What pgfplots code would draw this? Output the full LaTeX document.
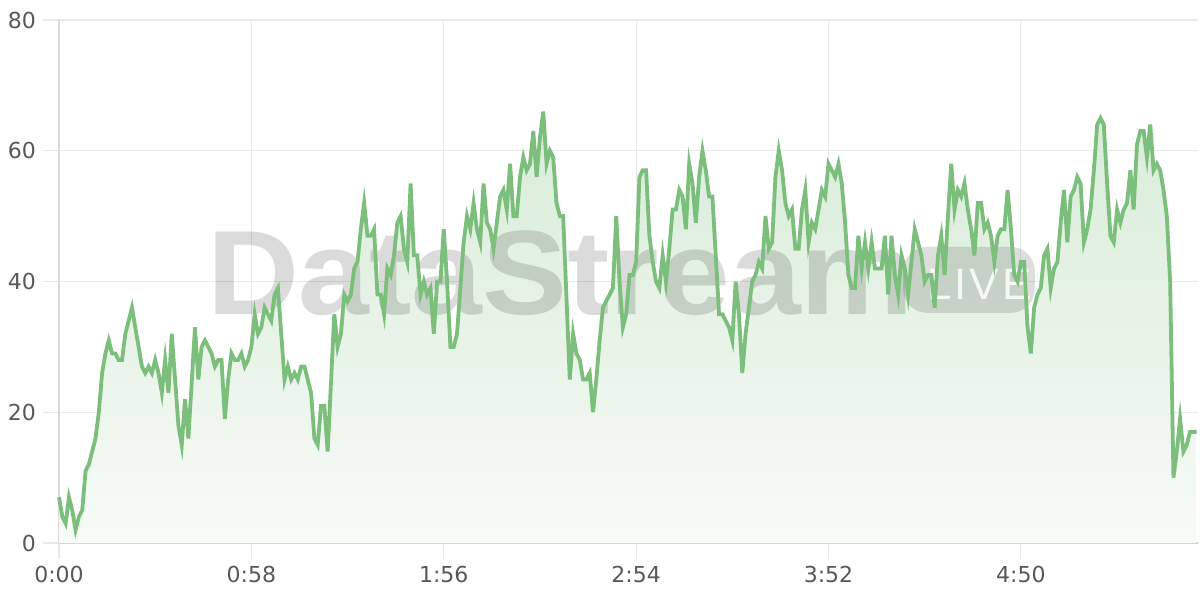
\documentclass[border=0pt]{standalone}
\usepackage{pgfplots}
\pgfplotsset{compat=1.18}
\usepackage{pgfplotstable}
\usepackage{fontspec}
\setmainfont{DejaVu Sans}
\newfontfamily\wmfont{Liberation Sans}

\definecolor{linegreen}{RGB}{124,190,124}
\definecolor{filltop}{RGB}{216,236,216}
\definecolor{fillbot}{RGB}{247,251,247}
\definecolor{gridgray}{RGB}{234,234,234}
\definecolor{axisgray}{RGB}{208,208,208}
\definecolor{labelgray}{RGB}{88,88,88}

% viewers per second
\pgfplotstableread{
t v
0 7
1 4
2 3
3 7
4 5
5 2
6 4
7 5
8 11
9 12
10 14
11 16
12 20
13 26
14 29
15 31
16 29
17 29
18 28
19 28
20 32
21 34
22 36
23 33
24 30
25 27
26 26
27 27
28 26
29 28
30 26
31 23
32 28
33 23
34 32
36 18
37 15
38 22
39 16
41 33
42 25
43 30
44 31
45 30
46 29
47 27
48 28
49 28
50 19
51 25
52 29
53 28
54 28
55 29
56 27
57 28
58 30
59 35
60 32
61 33
62 36
63 35
64 34
65 38
66 39
68 25
69 27
70 25
71 26
72 25
73 27
74 27
76 23
77 16
78 15
79 21
80 21
81 14
83 35
84 30
85 32
86 38
87 37
88 38
89 42
90 43
91 48
92 52
93 47
94 47
95 48
96 38
97 38
98 35
99 42
100 41
101 44
102 49
103 50
104 45
105 43
106 55
107 44
108 44
109 38
110 40
111 38
112 39
113 32
114 40
115 40
116 48
117 40
118 30
119 30
120 32
121 39
122 46
123 50
124 48
125 52
126 48
127 46
128 55
129 49
130 48
131 45
132 49
133 53
134 54
135 51
136 58
137 50
138 50
139 56
140 59
141 57
142 58
143 63
144 56
145 62
146 66
147 58
148 60
149 59
150 52
151 50
152 50
154 25
155 32
156 29
157 28
158 25
159 25
160 26
161 20
162 25
163 31
164 36
165 37
167 39
168 50
169 40
170 33
171 35
172 41
173 41
174 43
175 56
176 57
177 57
178 47
179 43
180 40
181 39
182 44
183 40
184 45
185 51
186 51
187 54
188 53
189 48
190 58
191 55
192 49
193 56
194 60
195 57
196 53
197 53
199 35
200 35
201 34
202 33
203 31
204 40
205 35
206 26
207 32
208 36
209 40
210 41
211 43
212 42
213 50
214 45
215 46
216 56
217 60
218 57
219 52
220 50
221 51
222 45
223 45
224 51
225 54
226 46
227 49
228 48
229 51
230 54
231 53
232 58
233 57
234 56
235 58
236 55
237 49
238 41
239 39
240 39
241 47
242 42
243 46
244 42
245 46
246 42
247 42
248 42
249 47
250 38
251 47
252 41
253 38
254 44
255 42
256 38
257 43
258 48
259 46
260 44
261 40
262 41
263 41
264 36
265 44
266 47
267 41
268 50
269 58
270 51
271 54
272 53
273 55
274 51
275 48
276 44
277 52
278 52
279 48
280 49
281 47
282 43
283 47
284 48
285 48
286 54
287 48
288 41
289 40
290 43
291 43
292 33
293 29
294 36
295 38
296 39
297 44
298 45
299 39
300 42
301 43
302 49
303 54
304 46
305 53
306 54
307 56
308 55
309 46
310 48
311 51
312 57
313 64
314 65
315 64
316 55
317 47
318 46
319 51
320 49
321 51
322 52
323 57
324 51
325 61
326 63
327 63
328 59
329 64
330 57
331 58
332 57
333 54
334 50
335 40
336 10
337 14
338 19
339 14
340 15
341 17
342 17
343 17
}\viewers

\begin{document}
\begin{tikzpicture}
\useasboundingbox (0,0) rectangle (600pt,300pt);
\begin{axis}[
  at={(29.5pt,28.5pt)}, anchor=south west,
  scale only axis, width=569.5pt, height=261.5pt,
  xmin=0, xmax=343.4, ymin=0, ymax=80,
  axis lines=left, axis line style={-},
  x axis line style={draw=axisgray, line width=1pt},
  y axis line style={draw=black!15, line width=0.75pt},
  xtick={0,58,116,174,232,290},
  xticklabels={0:00,0:58,1:56,2:54,3:52,4:50},
  ytick={0,20,40,60,80},
  grid=major,
  grid style={draw=gridgray, line width=0.6pt},
  tick align=outside, major tick length=8pt,
  tick style={draw=gridgray, line width=0.6pt},
  ticklabel style={font=\fontsize{11}{13}\selectfont, text=labelgray},
  /pgf/number format/assume math mode=true,
  clip=false,
]
\addplot[draw=none, shade, top color=filltop, bottom color=fillbot]
  table[x=t, y=v] {\viewers} \closedcycle;

% watermark
\node[anchor=base west, inner sep=0, text=black, opacity=0.14, xscale=1.06,
  font=\wmfont\bfseries\fontsize{60}{60}\selectfont]
  at (axis cs:44.5,35.0) {DataStream};
\fill[black, opacity=0.13, rounded corners=12pt]
  (axis cs:254.5,35.2) rectangle (axis cs:294.2,45.3);
\node[text=white, opacity=0.85, inner sep=0,
  font=\wmfont\fontsize{22}{22}\selectfont]
  at (axis cs:277.5,39.6) {L\kern1.5pt I\kern1.5pt V\kern1.5pt E};

\addplot[linegreen, line width=1.9pt, mark=none]
  table[x=t, y=v] {\viewers};
\end{axis}
\end{tikzpicture}
\end{document}
